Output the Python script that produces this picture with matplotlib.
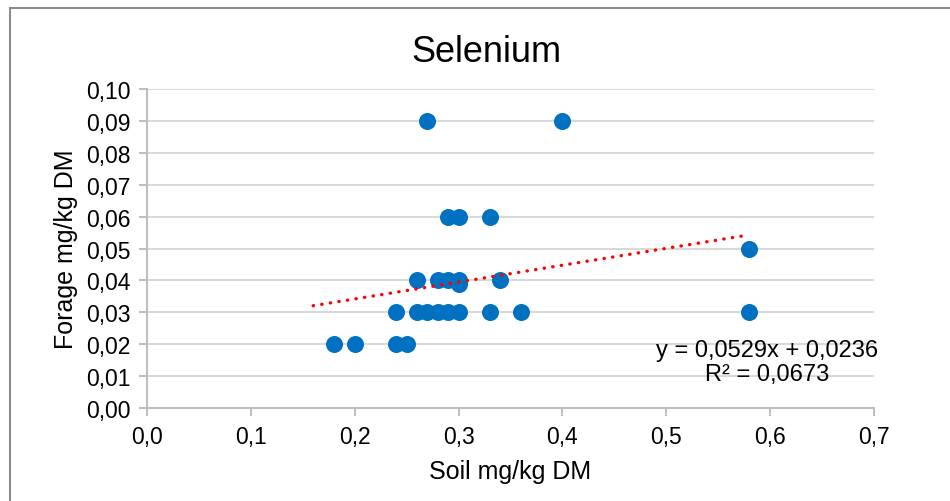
import matplotlib.pyplot as plt
from matplotlib.patches import Rectangle
from matplotlib.ticker import FuncFormatter, MultipleLocator

plt.rcParams['font.family'] = ['Liberation Sans', 'DejaVu Sans']

# Soil vs forage selenium, mg/kg DM
soil = [0.27, 0.40, 0.29, 0.30, 0.33, 0.26, 0.28, 0.29, 0.30, 0.30, 0.34,
        0.24, 0.26, 0.27, 0.28, 0.29, 0.30, 0.33, 0.36,
        0.18, 0.20, 0.24, 0.25, 0.58, 0.58]
forage = [0.09, 0.09, 0.06, 0.06, 0.06, 0.04, 0.04, 0.04, 0.04, 0.039, 0.04,
          0.03, 0.03, 0.03, 0.03, 0.03, 0.03, 0.03, 0.03,
          0.02, 0.02, 0.02, 0.02, 0.05, 0.03]

# linear trendline as reported on the chart
slope = 0.0529
intercept = 0.0236
r2 = 0.0673
trend_x = [0.16, 0.58]
trend_y = [slope * x + intercept for x in trend_x]

fig = plt.figure(figsize=(9.5, 5.02), dpi=100)
ax = fig.add_axes([147 / 950, 1 - 409 / 502, 727 / 950, 319 / 502])

# outer chart border (cut off at right and bottom)
fig.patches.append(Rectangle((10 / 950, -0.1), 1.2, 1.1 - 10 / 502 + 0.001,
                             transform=fig.transFigure, fill=False,
                             edgecolor='#8c8c8c', linewidth=1.5))

ax.scatter(soil, forage, s=150, color='#0070C0', zorder=3, linewidths=0)
ax.plot(trend_x, trend_y, color='#FF0000', linewidth=2.4,
        linestyle=(0, (0.1, 2.5)), dash_capstyle='round', zorder=4)

ax.set_xlim(0, 0.7)
ax.set_ylim(0, 0.10)
ax.xaxis.set_major_locator(MultipleLocator(0.1))
ax.yaxis.set_major_locator(MultipleLocator(0.01))
ax.xaxis.set_major_formatter(FuncFormatter(lambda v, p: f"{v:.1f}".replace('.', ',')))
ax.yaxis.set_major_formatter(FuncFormatter(lambda v, p: f"{v:.2f}".replace('.', ',')))

ax.grid(axis='y', color='#d9d9d9', linewidth=1.5, zorder=0)
ax.set_axisbelow(True)
for side in ['top', 'right']:
    ax.spines[side].set_visible(False)
for side in ['left', 'bottom']:
    ax.spines[side].set_color('#bfbfbf')
    ax.spines[side].set_linewidth(1.5)
ax.tick_params(axis='both', colors='#bfbfbf', width=1.5, length=6,
               labelcolor='black', labelsize=16.5, pad=6)

# chart title is centred on the whole chart area, not the plot area
fig.text(486 / 950, 1 - 52 / 502, 'Selenium', fontsize=26,
         ha='center', va='center')
ax.set_xlabel('Soil mg/kg DM', fontsize=18, labelpad=8)
ax.set_ylabel('Forage mg/kg DM', fontsize=18, labelpad=6)

ax.text(0.5969, 0.0145, f"y = {slope:.4f}x + {intercept:.4f}".replace('.', ',')
        + "\n" + f"R² = {r2:.4f}".replace('.', ','),
        ha='center', va='center', fontsize=17, linespacing=1.1)

fig.savefig('out.png', dpi=100)
